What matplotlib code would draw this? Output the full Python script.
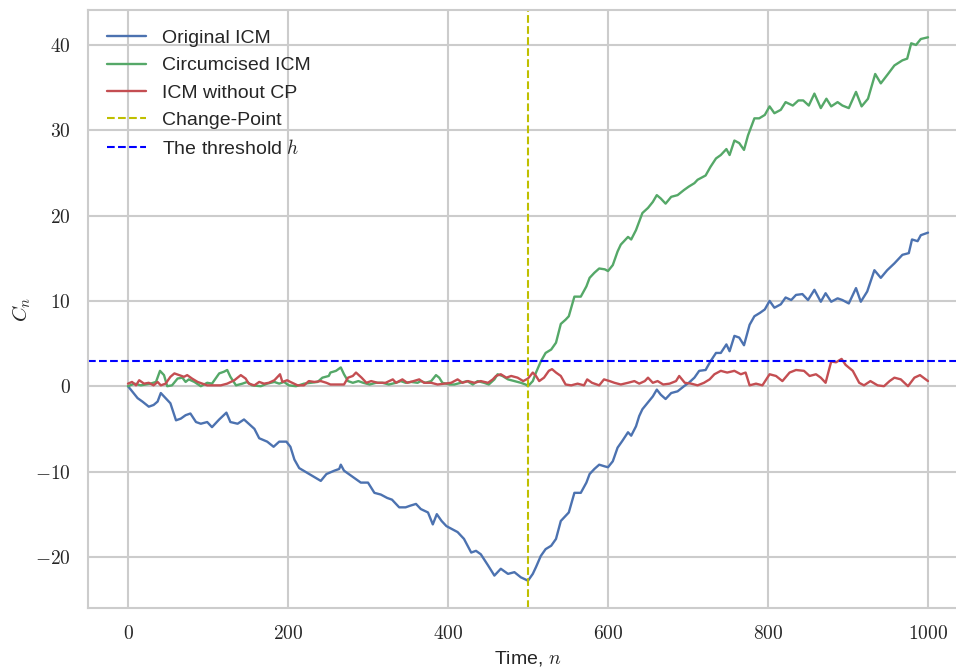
import matplotlib
matplotlib.use("Agg")
import matplotlib.pyplot as plt
from matplotlib.ticker import FuncFormatter, MultipleLocator
import seaborn as sns

# values (time n, statistic C_n)
orig_n = [0, 12, 18, 26, 32, 37, 41, 47, 53, 60, 66, 72, 78, 85, 91, 99, 105, 114, 123, 128,
          137, 145, 151, 158, 164, 174, 182, 189, 198, 203, 208, 214, 241, 248, 258, 264, 266,
          270, 279, 285, 291, 300, 308, 316, 324, 330, 339, 347, 353, 360, 366, 375, 381, 386,
          392, 398, 406, 412, 420, 429, 435, 441, 450, 458, 466, 475, 483, 491, 500, 506, 510,
          516, 522, 529, 535, 541, 547, 551, 558, 566, 573, 577, 583, 589, 596, 600, 606, 612,
          618, 625, 629, 635, 639, 643, 650, 656, 661, 666, 672, 679, 687, 695, 701, 708, 714,
          722, 728, 735, 741, 748, 752, 758, 764, 770, 777, 783, 790, 796, 802, 808, 816, 822,
          829, 835, 843, 850, 858, 866, 872, 879, 887, 893, 901, 910, 916, 924, 933, 941, 949,
          958, 968, 976, 980, 987, 991, 1000]
orig_c = [0.0, -1.4, -1.8, -2.4, -2.2, -1.8, -0.8, -1.4, -2.0, -4.0, -3.8, -3.4, -3.2, -4.2,
          -4.4, -4.2, -4.8, -3.9, -3.1, -4.2, -4.4, -3.9, -4.4, -5.0, -6.1, -6.5, -7.1, -6.5,
          -6.5, -7.1, -8.6, -9.6, -11.1, -10.3, -9.9, -9.7, -9.2, -9.9, -10.5, -10.9, -11.3,
          -11.3, -12.5, -12.7, -13.1, -13.3, -14.2, -14.2, -14.0, -13.8, -14.4, -14.8, -16.2,
          -15.0, -15.8, -16.4, -16.8, -17.1, -17.9, -19.5, -19.3, -19.7, -21.0, -22.2, -21.4,
          -22.0, -21.8, -22.4, -22.8, -22.0, -21.2, -19.9, -19.1, -18.7, -17.9, -15.8, -15.2,
          -14.8, -12.5, -12.5, -11.3, -10.3, -9.7, -9.2, -9.4, -9.5, -8.8, -7.2, -6.4, -5.4,
          -5.8, -4.7, -3.5, -2.7, -1.9, -1.2, -0.4, -1.0, -1.5, -0.8, -0.6, 0.0, 0.4, 1.0, 1.8,
          1.9, 2.9, 3.9, 3.9, 4.9, 4.1, 5.9, 5.7, 4.8, 7.2, 8.2, 8.6, 9.0, 10.0, 9.2, 9.6, 10.4,
          10.1, 10.7, 10.8, 10.1, 11.3, 9.9, 10.9, 9.9, 10.3, 10.1, 9.7, 11.5, 9.9, 11.1, 13.6,
          12.7, 13.6, 14.4, 15.4, 15.6, 17.2, 17.0, 17.7, 18.0]

circ_n = [0, 8, 16, 28, 35, 40, 45, 49, 55, 62, 68, 72, 76, 83, 91, 99, 105, 114, 120, 124,
          128, 135, 143, 149, 155, 166, 174, 183, 189, 195, 201, 210, 220, 228, 237, 243, 251,
          253, 260, 266, 270, 275, 281, 288, 294, 302, 310, 318, 326, 335, 341, 347, 354, 362,
          366, 372, 379, 385, 389, 393, 402, 408, 416, 424, 431, 437, 445, 451, 458, 462, 468,
          475, 483, 491, 497, 500, 506, 510, 516, 522, 529, 535, 541, 547, 551, 558, 566, 573,
          577, 583, 589, 596, 600, 606, 612, 616, 625, 629, 635, 639, 643, 650, 656, 661, 666,
          672, 679, 687, 695, 701, 708, 712, 722, 728, 735, 741, 748, 752, 758, 764, 770, 775,
          783, 789, 796, 802, 808, 816, 822, 831, 838, 844, 851, 858, 866, 873, 879, 887, 893,
          901, 910, 917, 925, 934, 941, 950, 958, 968, 974, 979, 985, 991, 1000]
circ_c = [0.0, 0.3, 0.1, 0.3, 0.5, 1.8, 1.3, 0.0, 0.1, 0.9, 1.0, 0.5, 0.8, 0.5, 0.0, 0.4, 0.3,
          1.5, 1.7, 1.9, 1.1, 0.1, 0.3, 0.5, 0.1, 0.0, 0.3, 0.5, 0.3, 0.5, 0.1, 0.0, 0.3, 0.4,
          0.5, 1.0, 1.2, 1.6, 1.8, 2.2, 1.4, 0.6, 0.4, 0.6, 0.4, 0.2, 0.4, 0.4, 0.2, 0.4, 0.6,
          0.4, 0.5, 0.4, 0.6, 0.4, 0.6, 1.3, 1.0, 0.4, 0.2, 0.2, 0.4, 0.6, 0.2, 0.6, 0.4, 0.2,
          0.8, 1.4, 1.2, 0.8, 0.6, 0.4, 0.2, 0.0, 0.6, 1.6, 2.9, 3.9, 4.3, 5.1, 7.3, 7.8, 8.2,
          10.5, 10.5, 11.7, 12.7, 13.3, 13.8, 13.7, 13.5, 14.2, 15.8, 16.6, 17.5, 17.2, 18.3,
          19.3, 20.3, 20.9, 21.6, 22.4, 22.0, 21.4, 22.2, 22.4, 23.0, 23.4, 23.8, 24.2, 24.7,
          25.7, 26.7, 27.1, 27.8, 27.1, 28.8, 28.5, 27.7, 29.4, 31.4, 31.4, 31.8, 32.8, 32.0,
          32.4, 33.3, 32.9, 33.5, 33.5, 32.9, 34.3, 32.6, 33.7, 32.8, 33.3, 32.9, 32.6, 34.5,
          32.8, 33.7, 36.6, 35.5, 36.6, 37.6, 38.2, 38.4, 40.2, 40.0, 40.7, 40.9]

nocp_n = [0, 5, 10, 14, 20, 26, 32, 37, 41, 47, 53, 58, 64, 70, 74, 80, 87, 93, 99, 108, 116,
          124, 133, 141, 147, 151, 158, 164, 170, 176, 183, 190, 193, 199, 203, 212, 220, 226,
          233, 241, 248, 253, 262, 270, 275, 281, 285, 292, 298, 304, 312, 322, 331, 335, 343,
          349, 357, 364, 370, 379, 387, 395, 404, 412, 418, 425, 433, 441, 450, 456, 460, 466,
          473, 479, 487, 494, 500, 506, 510, 514, 520, 526, 530, 535, 541, 547, 554, 562, 570,
          574, 580, 589, 595, 602, 608, 616, 625, 633, 639, 646, 650, 656, 662, 669, 677, 685,
          689, 696, 704, 712, 720, 727, 733, 741, 749, 758, 766, 772, 777, 785, 793, 802, 810,
          818, 827, 835, 845, 852, 860, 866, 872, 879, 885, 892, 897, 906, 914, 920, 928, 937,
          945, 952, 958, 966, 975, 983, 990, 1000]
nocp_c = [0.3, 0.5, 0.1, 0.7, 0.3, 0.4, 0.1, 0.5, 0.1, 0.3, 1.1, 1.5, 1.3, 1.1, 1.3, 0.9, 0.5,
          0.3, 0.1, 0.1, 0.1, 0.3, 0.7, 1.3, 0.9, 0.3, 0.1, 0.5, 0.3, 0.4, 0.7, 1.4, 0.5, 0.7,
          0.5, 0.1, 0.1, 0.6, 0.5, 0.6, 0.4, 0.2, 0.2, 0.2, 1.0, 1.2, 1.6, 1.0, 0.4, 0.6, 0.4,
          0.4, 0.8, 0.4, 0.8, 0.4, 0.6, 0.8, 0.4, 0.4, 0.2, 0.3, 0.4, 0.8, 0.4, 0.6, 0.4, 0.6,
          0.4, 0.8, 1.2, 1.4, 1.0, 1.2, 1.0, 0.6, 0.9, 1.6, 1.2, 0.6, 1.0, 1.8, 2.0, 1.6, 1.2,
          0.2, 0.1, 0.3, 0.1, 0.8, 0.4, 0.1, 0.8, 0.6, 0.4, 0.2, 0.4, 0.6, 0.3, 0.6, 1.0, 0.4,
          0.6, 0.2, 0.3, 0.6, 1.2, 0.4, 0.3, 0.1, 0.4, 0.8, 1.4, 1.8, 1.6, 1.8, 1.4, 1.6, 0.1,
          0.3, 0.1, 1.4, 1.2, 0.6, 1.6, 1.9, 1.8, 1.2, 1.4, 1.0, 0.4, 2.9, 2.8, 3.2, 2.5, 1.8,
          0.4, 0.1, 0.6, 0.1, 0.0, 0.6, 1.0, 0.8, 0.0, 1.0, 1.3, 0.6]

change_point = 500
threshold = 3

sns.set_style("whitegrid")
plt.rcParams["font.family"] = ["Liberation Sans", "DejaVu Sans"]
plt.rcParams["mathtext.fontset"] = "cm"
plt.rcParams["grid.linewidth"] = 1.5
plt.rcParams["axes.linewidth"] = 1.5

fig = plt.figure(figsize=(9.56, 6.69), dpi=100)
ax = fig.add_axes([88 / 956, 61 / 669, 880 / 956, 598 / 669])

ax.plot(orig_n, orig_c, color="#4C72B0", lw=1.7, label="Original ICM")
ax.plot(circ_n, circ_c, color="#55A868", lw=1.7, label="Circumcised ICM")
ax.plot(nocp_n, nocp_c, color="#C44E52", lw=1.7, label="ICM without CP")
ax.axvline(change_point, color="y", ls="--", lw=1.5, label="Change-Point")
ax.axhline(threshold, color="b", ls="--", lw=1.5, label="The threshold $h$")

ax.set_xlim(-50, 1050)
ax.set_ylim(-26.0, 44.1)
ax.xaxis.set_major_locator(MultipleLocator(200))
ax.yaxis.set_major_locator(MultipleLocator(10))
fmt = FuncFormatter(lambda v, p: "$%d$" % v)
ax.xaxis.set_major_formatter(fmt)
ax.yaxis.set_major_formatter(fmt)
ax.tick_params(labelsize=14, pad=9, colors=".15")

ax.set_xlabel("Time, $n$", fontsize=14, color=".15")
ax.set_ylabel("$C_n$", fontsize=15, color=".15", labelpad=1)

ax.legend(loc="upper left", fontsize=14, frameon=False, borderaxespad=0.6)

fig.savefig("out.png", dpi=100)
